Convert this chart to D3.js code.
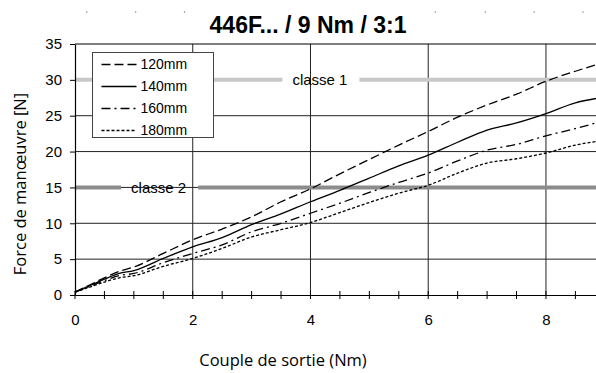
<!DOCTYPE html>
<html>
<head>
<meta charset="utf-8">
<script src="https://cdn.jsdelivr.net/npm/d3@7"></script>
<style>
  body { margin: 0; background: #fff; }
  svg { display: block; }
</style>
</head>
<body>
<svg id="chart" width="596" height="373"></svg>
<script>
// data
const couple = [0, 0.25, 0.5, 0.75, 1, 1.5, 2, 2.5, 3, 3.5, 4, 4.5, 5, 5.5, 6, 6.5, 7, 7.5, 8, 8.5, 8.85]
const f120 = [0.4, 1.4, 2.4, 3.3, 3.9, 5.8, 7.7, 9.2, 10.9, 13.0, 14.8, 16.9, 18.9, 20.9, 22.8, 24.8, 26.5, 28.0, 29.8, 31.2, 32.1]
const f140 = [0.4, 1.3, 2.2, 3.0, 3.4, 5.1, 6.7, 8.0, 9.8, 11.3, 13.0, 14.6, 16.3, 18.0, 19.5, 21.3, 23.0, 24.0, 25.3, 26.8, 27.4]
const f160 = [0.4, 1.2, 2.0, 2.7, 3.0, 4.5, 5.8, 7.0, 8.8, 10.0, 11.4, 12.8, 14.3, 15.7, 17.0, 18.7, 20.2, 21.0, 22.2, 23.2, 24.0]
const f180 = [0.4, 1.1, 1.8, 2.4, 2.7, 4.0, 5.1, 6.5, 8.1, 9.1, 10.1, 11.5, 12.9, 14.2, 15.3, 17.0, 18.4, 19.0, 19.8, 20.9, 21.4]
const seriesNames = ["120mm", "140mm", "160mm", "180mm"]
const xTicksMajor = [0, 2, 4, 6, 8]
const xTicksMinor = [0, 0.5, 1, 1.5, 2, 2.5, 3, 3.5, 4, 4.5, 5, 5.5, 6, 6.5, 7, 7.5, 8, 8.5]
const yTicks = [0, 5, 10, 15, 20, 25, 30, 35]
const classes = [{label: "classe 1", value: 30}, {label: "classe 2", value: 15}]
const topDots = [0.19, 1.02, 1.85, 6.11, 6.96, 7.79, 8.62]

const width = 596, height = 373
const marginL = 75, marginT = 44, bottom = 295

const svg = d3.select("#chart")
const xScale = d3.scaleLinear().domain([0, 8.85]).range([marginL, width])
const yScale = d3.scaleLinear().domain([0, 35]).range([bottom, marginT])

const styles = [
  {dash: "9,4", color: "#000"},
  {dash: null, color: "#000"},
  {dash: "9,4,2,4", color: "#000"},
  {dash: "3,2", color: "#000"}
]
const series = [f120, f140, f160, f180].map((vals, i) => ({
  name: seriesNames[i],
  points: couple.map((c, j) => [c, vals[j]]),
  ...styles[i]
}))

// gridlines
svg.append("g")
  .selectAll("line")
  .data(yTicks.filter(d => d > 0 && d < 35 && d !== 30))
  .join("line")
  .attr("x1", marginL).attr("x2", width)
  .attr("y1", d => yScale(d)).attr("y2", d => yScale(d))
  .attr("stroke", "#222")
svg.append("g")
  .selectAll("line")
  .data(xTicksMajor.filter(d => d > 0))
  .join("line")
  .attr("x1", d => xScale(d)).attr("x2", d => xScale(d))
  .attr("y1", marginT).attr("y2", bottom)
  .attr("stroke", "#222")

// top border
svg.append("line")
  .attr("x1", marginL).attr("x2", width)
  .attr("y1", marginT).attr("y2", marginT)
  .attr("stroke", "#000")

// classe bands with a gap for the label
const classColors = {"classe 1": "#c8c8c8", "classe 2": "#8c8c8c"}
const classLabelX = {"classe 1": 4.16, "classe 2": 1.42}
classes.forEach(c => {
  const g = svg.append("g")
  const cx = xScale(classLabelX[c.label])
  const t = g.append("text")
    .text(c.label)
    .attr("x", cx)
    .attr("y", yScale(c.value))
    .attr("dy", "0.35em")
    .attr("text-anchor", "middle")
    .attr("font-family", "Liberation Sans, Arial, sans-serif")
    .attr("font-size", 15)
  const tw = t.node().getComputedTextLength()
  g.insert("line", "text")
    .attr("x1", marginL).attr("x2", cx - tw / 2 - 10)
    .attr("y1", yScale(c.value)).attr("y2", yScale(c.value))
    .attr("stroke", classColors[c.label]).attr("stroke-width", 4)
  g.insert("line", "text")
    .attr("x1", cx + tw / 2 + 12).attr("x2", width)
    .attr("y1", yScale(c.value)).attr("y2", yScale(c.value))
    .attr("stroke", classColors[c.label]).attr("stroke-width", 4)
})

// curves
const line = d3.line().x(d => xScale(d[0])).y(d => yScale(d[1])).curve(d3.curveMonotoneX)
svg.append("g")
  .selectAll("path")
  .data(series)
  .join("path")
  .attr("d", d => line(d.points))
  .attr("fill", "none")
  .attr("stroke", d => d.color)
  .attr("stroke-width", 1.3)
  .attr("stroke-dasharray", d => d.dash)

// axes
const yAxis = d3.axisLeft(yScale).tickValues(yTicks).tickSize(5).tickSizeOuter(0)
const yAxisSVG = svg.append("g")
  .attr("transform", `translate(${marginL}, 0)`)
  .call(yAxis)
yAxisSVG.select(".domain").attr("stroke", "#000").attr("stroke-width", 1.2)
yAxisSVG.selectAll(".tick line").attr("stroke", "#000")
yAxisSVG.selectAll(".tick text")
  .attr("font-family", "Liberation Sans, Arial, sans-serif")
  .attr("font-size", 15)
  .attr("fill", "#000")
  .attr("x", -13)

const xAxis = d3.axisBottom(xScale).tickValues(xTicksMajor).tickSize(0).tickSizeOuter(0).tickPadding(19)
const xAxisSVG = svg.append("g")
  .attr("transform", `translate(0, ${bottom})`)
  .call(xAxis)
xAxisSVG.select(".domain").attr("stroke", "#000").attr("stroke-width", 1.2)
xAxisSVG.selectAll(".tick text")
  .attr("font-family", "Liberation Sans, Arial, sans-serif")
  .attr("font-size", 15)
  .attr("fill", "#000")
xAxisSVG.selectAll(".minor")
  .data(xTicksMinor)
  .join("line")
  .attr("class", "minor")
  .attr("x1", d => xScale(d)).attr("x2", d => xScale(d))
  .attr("y1", -4).attr("y2", 4)
  .attr("stroke", "#000")

// legend
const legend = svg.append("g").attr("transform", "translate(92.5, 52.5)")
legend.append("rect")
  .attr("width", 121).attr("height", 85)
  .attr("fill", "#fff")
  .attr("stroke", "#444")
const item = legend.selectAll("g.item")
  .data(series)
  .join("g")
  .attr("class", "item")
  .attr("transform", (d, i) => `translate(0, ${12 + i * 22})`)
item.append("line")
  .attr("x1", 9).attr("x2", 44)
  .attr("stroke", d => d.color)
  .attr("stroke-width", 1.3)
  .attr("stroke-dasharray", d => d.dash)
item.append("text")
  .text(d => d.name)
  .attr("x", 48)
  .attr("dy", "0.35em")
  .attr("font-family", "Liberation Sans, Arial, sans-serif")
  .attr("font-size", 14)

// small dots along the top edge
svg.append("g")
  .selectAll("rect")
  .data(topDots)
  .join("rect")
  .attr("x", d => xScale(d)).attr("y", 11.5)
  .attr("width", 1.2).attr("height", 1.2)
  .attr("fill", "#777")

// title and axis labels
svg.append("text")
  .text("446F... / 9 Nm / 3:1")
  .attr("x", 308).attr("y", 33)
  .attr("text-anchor", "middle")
  .attr("font-family", "Liberation Sans, Arial, sans-serif")
  .attr("font-weight", "bold")
  .attr("font-size", 23)

svg.append("text")
  .text("Couple de sortie (Nm)")
  .attr("x", 283).attr("y", 366)
  .attr("text-anchor", "middle")
  .attr("font-family", "Open Sans, sans-serif")
  .attr("font-size", 16.5)

svg.append("text")
  .text("Force de manœuvre [N]")
  .attr("transform", "translate(26, 184) rotate(-90)")
  .attr("text-anchor", "middle")
  .attr("font-family", "Open Sans, sans-serif")
  .attr("font-size", 16.5)
</script>
</body>
</html>
